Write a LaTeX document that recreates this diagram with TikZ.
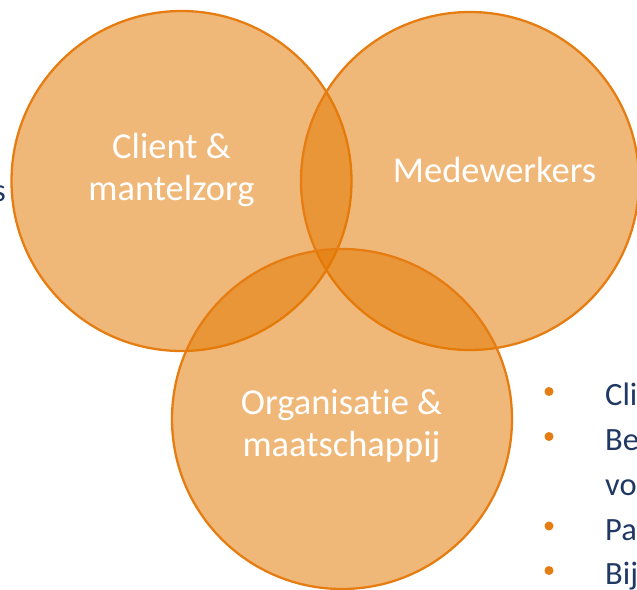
\documentclass[tikz,border=0pt]{standalone}
\usepackage{fontspec}
\setmainfont{Carlito}[Ligatures=NoCommon]
\definecolor{vfill}{RGB}{227,120,0}
\definecolor{vline}{RGB}{230,125,18}
\definecolor{navy}{RGB}{31,56,100}
\definecolor{bulletc}{RGB}{230,125,18}
\begin{document}
\begin{tikzpicture}[x=1pt,y=-1pt,
  venn/.style={circle, inner sep=0pt, draw=vline, line width=2.3pt, fill=vfill, fill opacity=0.53, draw opacity=1},
  lbl/.style={text=white, align=center, font=\fontsize{36.5}{41.5}\selectfont, inner sep=0pt},
  btxt/.style={text=navy, anchor=base west, font=\fontsize{32.5}{40}\selectfont, inner sep=0pt},
  bdot/.style={circle, fill=bulletc, minimum size=9pt, inner sep=0pt}]
\useasboundingbox (0,0) rectangle (637,589);
\node[venn, minimum size=340pt] (c1) at (181.5,181) {};
\node[venn, minimum size=338pt] (c2) at (470,181) {};
\node[venn, minimum size=340pt] (c3) at (342,419) {};
\node[lbl] (t1) at (171.5,170) {Client \&\\mantelzorg};
\node[lbl, anchor=base] (t2) at (494.5,182) {Medewerkers};
\node[lbl] (t3) at (341.5,426) {Organisatie \&\\maatschappij};
\node[text=navy, anchor=base east, font=\fontsize{32.5}{40}\selectfont, inner sep=0pt] (s) at (6,201) {s};
\node[bdot] (d1) at (549,391.5) {};
\node[bdot] (d2) at (549,436.5) {};
\node[bdot] (d4) at (549,526) {};
\node[bdot] (d5) at (549,570.5) {};
\node[btxt] (b1) at (605,405) {Cli};
\node[btxt] (b2) at (605,450) {Be};
\node[btxt] (b3) at (605,495) {vo};
\node[btxt] (b4) at (605,540) {Pa};
\node[btxt] (b5) at (605,584) {Bij};
\end{tikzpicture}
\end{document}
